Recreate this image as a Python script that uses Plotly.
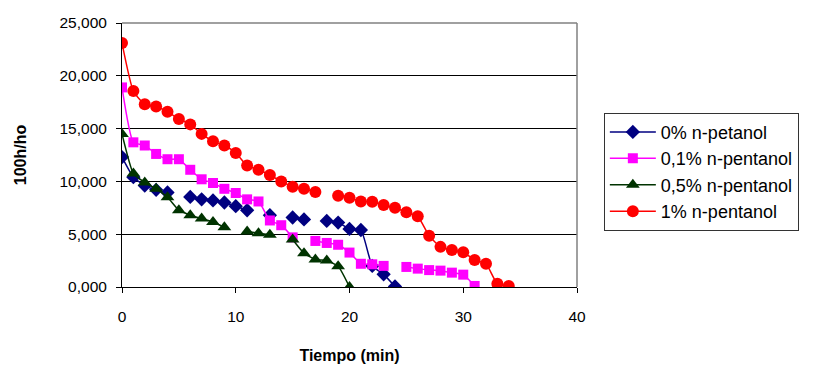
import plotly.graph_objects as go

# Time (min)
t_0 = list(range(0, 25))
t_01 = list(range(0, 32))
t_05 = list(range(0, 21))
t_1 = list(range(0, 35))

# 100h/ho values (None = missing reading -> gap)
y_0 = [12.3, 10.4, 9.6, 9.2, 8.95, None, 8.53, 8.3, 8.2, 8.0, 7.65, 7.27, None, 6.8,
       None, 6.58, 6.4, None, 6.26, 6.1, 5.5, 5.4, 2.0, 1.2, 0.05]
y_01 = [18.9, 13.7, 13.4, 12.6, 12.1, 12.1, 11.1, 10.2, 9.85, 9.3, 8.9, 8.3, 8.1, 6.3,
        5.85, 4.7, None, 4.36, 4.17, 4.0, 3.26, 2.2, 2.15, 2.0, None, 1.9, 1.74, 1.6,
        1.55, 1.36, 1.17, 0.1]
y_05 = [14.5, 10.75, 9.9, 9.3, 8.5, 7.27, 6.8, 6.48, 6.16, 5.65, None, 5.25, 5.1, 4.95,
        None, 4.5, 3.2, 2.6, 2.5, 1.96, 0.0]
y_1 = [23.1, 18.55, 17.3, 17.1, 16.6, 15.9, 15.4, 14.5, 13.8, 13.4, 12.7, 11.5, 11.1,
       10.6, 10.0, 9.5, 9.3, 9.0, None, 8.65, 8.46, 8.1, 8.08, 7.76, 7.5, 7.07, 6.69,
       4.86, 3.8, 3.5, 3.3, 2.55, 2.2, 0.3, 0.1]

x_ticks = [0, 10, 20, 30, 40]
y_ticks = [0, 5, 10, 15, 20, 25]

names = ["0% n-petanol", "0,1% n-pentanol", "0,5% n-pentanol", "1% n-pentanol"]
colors = ["#000080", "#FF00FF", "#003300", "#FF0000"]
symbols = ["diamond", "square", "triangle-up", "circle"]
sizes = [11, 10, 12, 12]

FONT = "Liberation Sans, Arial, sans-serif"

fig = go.Figure()
for i, (x, y) in enumerate([(t_0, y_0), (t_01, y_01), (t_05, y_05), (t_1, y_1)]):
    fig.add_trace(go.Scatter(
        x=x, y=y, name=names[i], mode="lines+markers",
        legendgroup=f"g{i}", connectgaps=False,
        line=dict(color=colors[i], width=1.5, shape="spline", smoothing=0.5),
        marker=dict(symbol=symbols[i], color=colors[i], size=sizes[i],
                    line=dict(width=0)),
    ))

fig.update_layout(
    width=828, height=368,
    margin=dict(l=122, r=251, t=23, b=81, autoexpand=False),
    paper_bgcolor="white", plot_bgcolor="white",
    separators=",.",
    font=dict(family=FONT, size=15.5, color="black"),
    showlegend=True,
    legend=dict(x=1.059, y=0.66, xanchor="left", yanchor="top",
                bordercolor="#333333", borderwidth=1, bgcolor="white",
                font=dict(family=FONT, size=18),
                itemwidth=46,
                traceorder="grouped", tracegroupgap=0),
    shapes=[
        dict(type="line", xref="paper", yref="paper", x0=0, x1=1, y0=1, y1=1,
             line=dict(color="#808080", width=1.5), layer="above"),
        dict(type="line", xref="paper", yref="paper", x0=1, x1=1, y0=0, y1=1,
             line=dict(color="#808080", width=1.5), layer="above"),
    ],
)
fig.update_xaxes(range=[0, 40], tickvals=x_ticks, automargin=False,
                 showgrid=False, zeroline=False,
                 showline=True, linecolor="black", linewidth=1,
                 ticks="outside", ticklen=5, tickcolor="black",
                 ticklabelstandoff=10,
                 title=dict(text="<b>Tiempo (min)</b>", font=dict(size=16), standoff=26))
fig.update_yaxes(range=[0, 25], tickvals=y_ticks, tickformat=".3f", automargin=False,
                 showgrid=True, gridcolor="black", gridwidth=1, zeroline=False,
                 showline=True, linecolor="black", linewidth=1,
                 ticks="outside", ticklen=5, tickcolor="black",
                 ticklabelstandoff=6,
                 title=dict(text="<b>100h/ho</b>", font=dict(size=16), standoff=28))

fig.write_html("out.html")
